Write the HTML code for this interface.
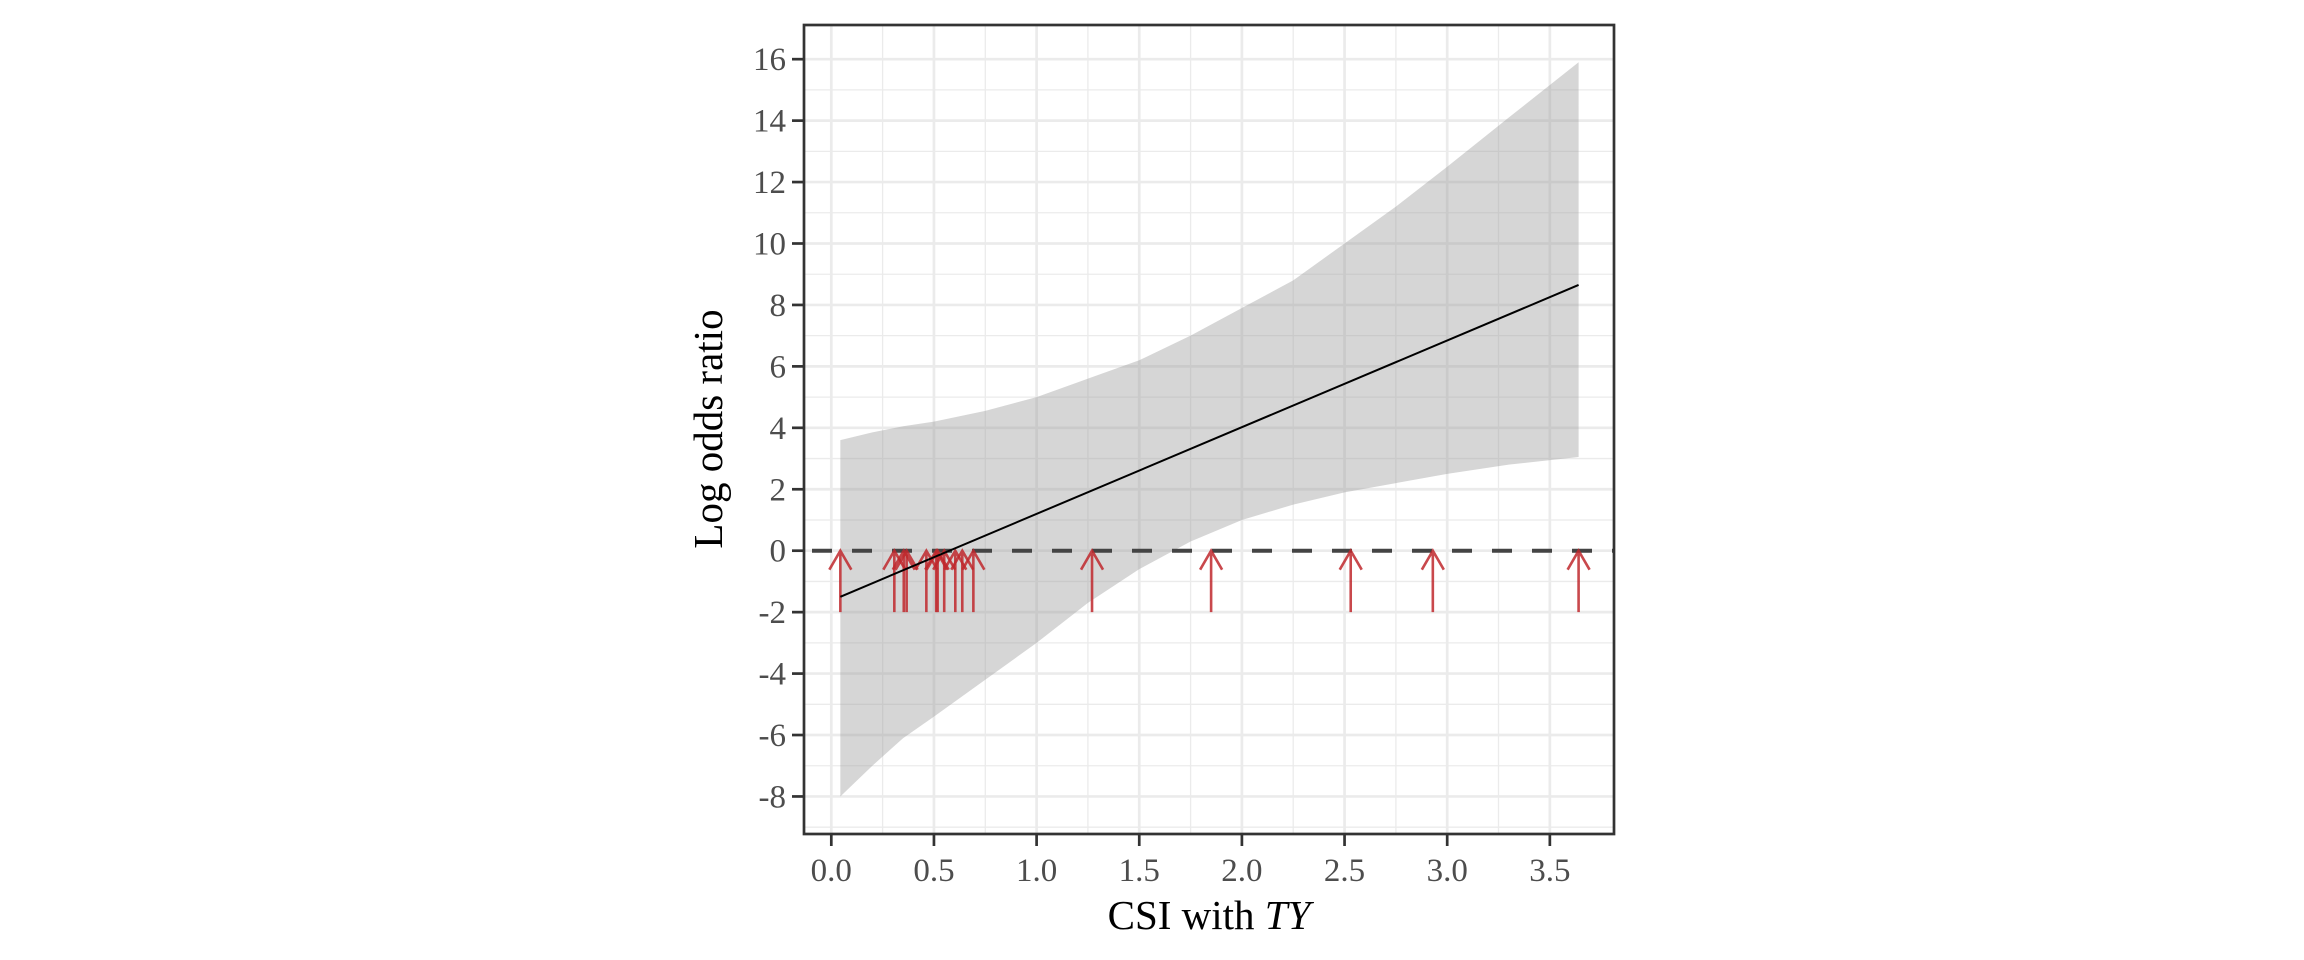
<!DOCTYPE html>
<html><head><meta charset="utf-8"><style>
html,body{margin:0;padding:0;background:#fff;width:2304px;height:960px;overflow:hidden}
svg{display:block}
text{font-family:"Liberation Serif",serif}
</style></head><body>
<svg id="chart" width="2304" height="960" viewBox="0 0 2304 960"></svg>
<script>
const xMajor=[0,0.5,1,1.5,2,2.5,3,3.5];
const xMinor=[0.25,0.75,1.25,1.75,2.25,2.75,3.25];
const xTickLabels=["0.0","0.5","1.0","1.5","2.0","2.5","3.0","3.5"];
const yMajor=[-8,-6,-4,-2,0,2,4,6,8,10,12,14,16];
const yMinor=[-9,-7,-5,-3,-1,1,3,5,7,9,11,13,15];
const yTickLabels=["-8","-6","-4","-2","0","2","4","6","8","10","12","14","16"];
const bandX=[0.044,0.2,0.35,0.5,0.75,1.0,1.25,1.5,1.75,2.0,2.25,2.5,2.75,3.0,3.3,3.64];
const bandUpper=[3.6,3.85,4.05,4.2,4.55,5.0,5.6,6.2,7.0,7.9,8.8,10.0,11.2,12.5,14.1,15.9];
const bandLower=[-8.0,-7.0,-6.1,-5.4,-4.2,-3.0,-1.7,-0.6,0.3,1.0,1.5,1.9,2.2,2.5,2.8,3.05];
const fitX=[0.044,3.64];
const fitY=[-1.5,8.65];
const arrowX=[0.044,0.307,0.353,0.367,0.463,0.511,0.518,0.55,0.604,0.638,0.692,1.27,1.85,2.53,2.93,3.64];
const arrowTop=0, arrowBottom=-2;

const NS="http://www.w3.org/2000/svg";
const svg=document.getElementById('chart');
const P={l:804,r:1614,t:25,b:834};
const sx=v=>831.3+v*205.3;
const sy=v=>550.7-v*30.72;
function mk(tag,attrs,parent){const e=document.createElementNS(NS,tag);for(const k in attrs)e.setAttribute(k,attrs[k]);(parent||svg).appendChild(e);return e;}

const grid=mk('g',{});


xMinor.forEach(v=>mk('line',{x1:sx(v),x2:sx(v),y1:P.t,y2:P.b,stroke:'#ebebeb','stroke-width':1.3},grid));
yMinor.forEach(v=>mk('line',{x1:P.l,x2:P.r,y1:sy(v),y2:sy(v),stroke:'#ebebeb','stroke-width':1.3},grid));
xMajor.forEach(v=>mk('line',{x1:sx(v),x2:sx(v),y1:P.t,y2:P.b,stroke:'#ebebeb','stroke-width':2.7},grid));
yMajor.forEach(v=>mk('line',{x1:P.l,x2:P.r,y1:sy(v),y2:sy(v),stroke:'#ebebeb','stroke-width':2.7},grid));

let d='';
bandX.forEach((x,i)=>{d+=(i?'L':'M')+sx(x)+','+sy(bandUpper[i]);});
for(let i=bandX.length-1;i>=0;i--)d+='L'+sx(bandX[i])+','+sy(bandLower[i]);
const band=mk('path',{d:d+'Z',fill:'#999999','fill-opacity':0.4});



const dash=mk('line',{x1:P.l,x2:P.r,y1:sy(0),y2:sy(0),stroke:'#444','stroke-width':4,'stroke-dasharray':'20 20','stroke-dashoffset':'-8'});



const arrows=mk('g',{stroke:'#c0282d','stroke-opacity':0.85,'stroke-width':2.6,fill:'none'});


arrowX.forEach(v=>{
  const x=sx(v),yt=sy(arrowTop),yb=sy(arrowBottom);
  const a=mk('path',{d:`M${x},${yb}L${x},${yt}M${x-11},${yt+19}L${x},${yt}L${x+11},${yt+19}`},arrows);
  
  
});

const fit=mk('line',{x1:sx(fitX[0]),y1:sy(fitY[0]),x2:sx(fitX[1]),y2:sy(fitY[1]),stroke:'#000','stroke-width':2});



const border=mk('rect',{x:P.l,y:P.t,width:P.r-P.l,height:P.b-P.t,fill:'none',stroke:'#333','stroke-width':2.7});



const xax=mk('g',{});


xMajor.forEach((v,i)=>{
  mk('line',{x1:sx(v),x2:sx(v),y1:P.b,y2:P.b+12,stroke:'#333','stroke-width':2.7},xax);
  const t=mk('text',{x:sx(v),y:881,'text-anchor':'middle','font-size':33,fill:'#4d4d4d'},xax);
  t.textContent=xTickLabels[i];
  
  
});
const yax=mk('g',{});


yMajor.forEach((v,i)=>{
  mk('line',{x1:P.l-12,x2:P.l,y1:sy(v),y2:sy(v),stroke:'#333','stroke-width':2.7},yax);
  const t=mk('text',{x:P.l-18,y:sy(v)+11,'text-anchor':'end','font-size':33,fill:'#4d4d4d'},yax);
  t.textContent=yTickLabels[i];
  
  
});
</script>
<svg width="2304" height="960" style="position:absolute;left:0;top:0">
<text x="1209" y="929" text-anchor="middle" font-size="41" fill="#000">CSI with <tspan font-style="italic">TY</tspan></text>
<text transform="translate(722,429) rotate(-90)" text-anchor="middle" font-size="41" fill="#000">Log odds ratio</text>
</svg>
</body></html>
